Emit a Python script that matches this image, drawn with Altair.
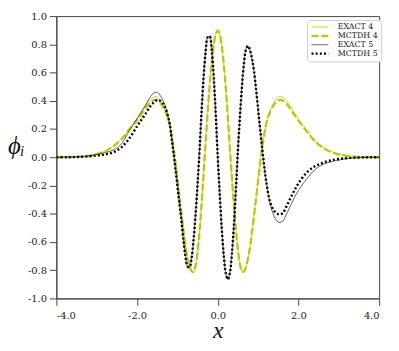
import altair as alt
import pandas as pd

series_names = ["EXACT 4", "MCTDH 4", "EXACT 5", "MCTDH 5"]

x_left = [-4.0, -3.75, -3.5, -3.25, -3.0, -2.8, -2.6, -2.4, -2.2, -2.0,
          -1.9, -1.8, -1.7, -1.6, -1.5, -1.4, -1.3]
x_mid = [-1.2, -1.15, -1.1, -1.05, -1.0, -0.95, -0.9, -0.85, -0.8, -0.75,
         -0.7, -0.65, -0.6, -0.55, -0.5, -0.45, -0.4, -0.35, -0.3, -0.25,
         -0.2, -0.15, -0.1, -0.05, 0.0, 0.05, 0.1, 0.15, 0.2, 0.25,
         0.3, 0.35, 0.4, 0.45, 0.5, 0.55, 0.6, 0.65, 0.7, 0.75,
         0.8, 0.85, 0.9, 0.95, 1.0, 1.05, 1.1, 1.15, 1.2]
x_right = [1.3, 1.4, 1.5, 1.6, 1.7, 1.8, 1.9, 2.0, 2.2, 2.4,
           2.6, 2.8, 3.0, 3.25, 3.5, 3.75, 4.0]

# n = 4 (yellow)
exact4_left = [0.0, 0.001, 0.003, 0.009, 0.022, 0.042, 0.075, 0.125, 0.198, 0.27,
               0.315, 0.36, 0.40, 0.425, 0.427, 0.39, 0.33]
mctdh4_left = [0.0, 0.001, 0.003, 0.009, 0.022, 0.042, 0.075, 0.124, 0.195, 0.262,
               0.30, 0.345, 0.38, 0.403, 0.405, 0.375, 0.325]
mode4_mid = [0.24, 0.165, 0.075, -0.035, -0.155, -0.28, -0.40, -0.52, -0.625, -0.71,
             -0.77, -0.806, -0.813, -0.771, -0.67, -0.518, -0.326, -0.112, 0.108, 0.318,
             0.51, 0.672, 0.795, 0.872, 0.898, 0.870, 0.789, 0.658, 0.488, 0.286,
             0.067, -0.143, -0.34, -0.515, -0.657, -0.757, -0.809, -0.81, -0.775, -0.715,
             -0.635, -0.53, -0.41, -0.29, -0.165, -0.045, 0.07, 0.16, 0.235]
exact4_right = [0.33, 0.39, 0.427, 0.425, 0.40, 0.36, 0.315, 0.27, 0.195, 0.125,
                0.075, 0.042, 0.022, 0.009, 0.003, 0.001, 0.0]
mctdh4_right = [0.325, 0.375, 0.405, 0.403, 0.38, 0.345, 0.30, 0.26, 0.185, 0.115,
                0.068, 0.038, 0.02, 0.008, 0.003, 0.001, 0.0]

# n = 5 (black)
exact5_left = [0.0, 0.001, 0.003, 0.008, 0.02, 0.032, 0.05, 0.09, 0.185, 0.275,
               0.32, 0.365, 0.415, 0.452, 0.46, 0.425, 0.36]
mctdh5_left = [0.0, 0.0, 0.002, 0.005, 0.012, 0.02, 0.034, 0.068, 0.13, 0.22,
               0.262, 0.303, 0.35, 0.385, 0.405, 0.395, 0.35]
mode5_mid = [0.25, 0.15, 0.04, -0.08, -0.20, -0.33, -0.45, -0.59, -0.70, -0.773,
             -0.779, -0.715, -0.586, -0.406, -0.187, 0.056, 0.332, 0.571, 0.751, 0.850,
             0.858, 0.761, 0.568, 0.303, 0.0, -0.267, -0.508, -0.700, -0.823, -0.865,
             -0.819, -0.686, -0.481, -0.224, 0.05, 0.291, 0.503, 0.667, 0.765, 0.789,
             0.757, 0.695, 0.607, 0.48, 0.34, 0.20, 0.065, -0.06, -0.17]
exact5_right = [-0.33, -0.42, -0.46, -0.455, -0.405, -0.345, -0.285, -0.235, -0.155, -0.09,
                -0.052, -0.033, -0.02, -0.008, -0.003, -0.001, 0.0]
mctdh5_right = [-0.32, -0.38, -0.403, -0.398, -0.35, -0.29, -0.235, -0.185, -0.11, -0.065,
                -0.04, -0.022, -0.012, -0.005, -0.002, 0.0, 0.0]

x_ticks = [-4.0, -2.0, 0.0, 2.0, 4.0]
y_ticks = [-1.0, -0.8, -0.6, -0.4, -0.2, 0.0, 0.2, 0.4, 0.6, 0.8, 1.0]

xs = x_left + x_mid + x_right
curves = {
    "EXACT 4": exact4_left + mode4_mid + exact4_right,
    "MCTDH 4": mctdh4_left + mode4_mid + mctdh4_right,
    "EXACT 5": exact5_left + mode5_mid + exact5_right,
    "MCTDH 5": mctdh5_left + mode5_mid + mctdh5_right,
}
rows = []
for name in series_names:
    for xv, yv in zip(xs, curves[name]):
        rows.append({"x": xv, "y": yv, "series": name})
df = pd.DataFrame(rows)

colors = ["#cccc10", "#c4c400", "#2a2a2a", "#000000"]
dashes = [[1, 0], [7, 3], [1, 0], [2, 2.2]]
widths = [1.0, 2.3, 0.8, 2.4]

FONT = "DejaVu Serif"
TFONT = "Liberation Serif"
label_expr = "replace(format(datum.value, '.1f'), '\u2212', '-')"

chart = alt.Chart(df).mark_line(interpolate="catmull-rom", strokeCap="butt", clip=True).encode(
    x=alt.X("x:Q", scale=alt.Scale(domain=[-4, 4], nice=False, zero=False),
            axis=alt.Axis(values=x_ticks, labelExpr=label_expr, title="x",
                          titleFont=TFONT, titleFontStyle="italic", titleFontWeight="normal",
                          titleFontSize=24, titleColor="#111", titleY=40,
                          titleBaseline="alphabetic",
                          tickSize=7, labelPadding=5, labelFont=FONT, labelFontSize=10,
                          labelColor="#222", domainColor="#444", tickColor="#444",
                          grid=False)),
    y=alt.Y("y:Q", scale=alt.Scale(domain=[-1, 1], nice=False, zero=False),
            axis=alt.Axis(values=y_ticks, labelExpr=label_expr, title="\u03d5\u1d62",
                          titleAngle=0, titleFont=TFONT, titleFontStyle="italic",
                          titleFontWeight="normal", titleFontSize=25, titleColor="#111",
                          titleX=-41, titleY=139, titleAlign="center",
                          titleBaseline="alphabetic",
                          tickSize=7, labelPadding=3, labelFont=FONT, labelFontSize=10,
                          labelColor="#222", domainColor="#444", tickColor="#444",
                          grid=False)),
    color=alt.Color("series:N", scale=alt.Scale(domain=series_names, range=colors),
                    title=None),
    strokeDash=alt.StrokeDash("series:N", scale=alt.Scale(domain=series_names, range=dashes),
                              title=None),
    strokeWidth=alt.StrokeWidth("series:N",
                                scale=alt.Scale(type="ordinal", domain=series_names, range=widths),
                                title=None),
).properties(
    width=327, height=286,
    autosize=alt.AutoSizeParams(type="none"),
    padding={"left": 49, "top": 6, "right": 12, "bottom": 47},
).configure_view(
    stroke="#444", strokeWidth=1
).configure_legend(
    orient="none", legendX=254, legendY=4, padding=3,
    strokeColor="#cccccc", fillColor="white", cornerRadius=3,
    labelFont=FONT, labelFontSize=8, labelColor="#222",
    symbolType="M-1,0H3.86", symbolSize=49, rowPadding=0, labelOffset=18,
)

chart.save("out.html", embed_options={"renderer": "svg", "actions": False})
